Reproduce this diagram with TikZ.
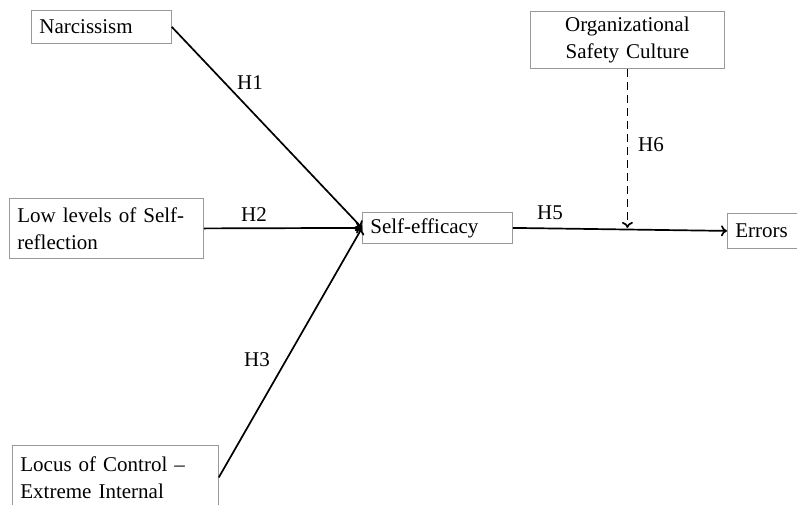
\documentclass[tikz,border=0pt]{standalone}
\usepackage{fontspec}
\setmainfont{Liberation Serif}
\usetikzlibrary{arrows.meta,calc}
\tikzset{
	factor/.style={
			draw=gray!80, line width=0.8pt, anchor=north west,
			inner xsep=8pt, inner ysep=2pt, align=left,
			font=\fontsize{21}{27}\selectfont
		},
	link/.style={line width=1.7pt, -{To[length=6pt, width=11pt]}},
	hyp/.style={font=\fontsize{21}{25}\selectfont}
}
\begin{document}
\begin{tikzpicture}[x=1pt, y=-1pt]
			\useasboundingbox (0,0) rectangle (797,504);

			% Draw the boxes
			\node[factor, text width=124pt, minimum height=33pt] (nar) at (31,10) {Narcissism};
			\node[factor, text width=178pt, minimum height=60pt] (low) at (9,198) {Low levels of Self-\\reflection};
			\node[factor, text width=190pt, minimum height=64pt] (loc) at (12,445) {Locus of Control --\\Extreme Internal};
			\node[factor, text width=134pt, minimum height=31pt] (eff) at (362,212) {Self-efficacy};
			\node[factor, text width=178pt, minimum height=57pt, align=center] (org) at (530,11) {Organizational\\Safety Culture};
			\node[factor, text width=70pt, minimum height=35pt] (err) at (727,213) {Errors};

			% Draw the paths
			\draw[link] (nar.east) -- (eff.west);
			\draw[link] (low.east) -- (eff.west);
			\draw[link] (loc.east) -- (eff.west);
			\draw[link] (eff.east) -- (err.west);

			% Moderation by safety culture
			\coordinate (mod) at (org.south |- eff.east);
			\draw[link, dash pattern=on 8pt off 5pt] (org.south) -- (mod);

			% Label the hypotheses
			\node[hyp] (h1) at (250,83) {H1};
			\node[hyp] (h2) at (254,215) {H2};
			\node[hyp] (h3) at (257,360) {H3};
			\node[hyp] (h5) at (550,213) {H5};
			\node[hyp] (h6) at (651,145) {H6};
		\end{tikzpicture}
\end{document}
